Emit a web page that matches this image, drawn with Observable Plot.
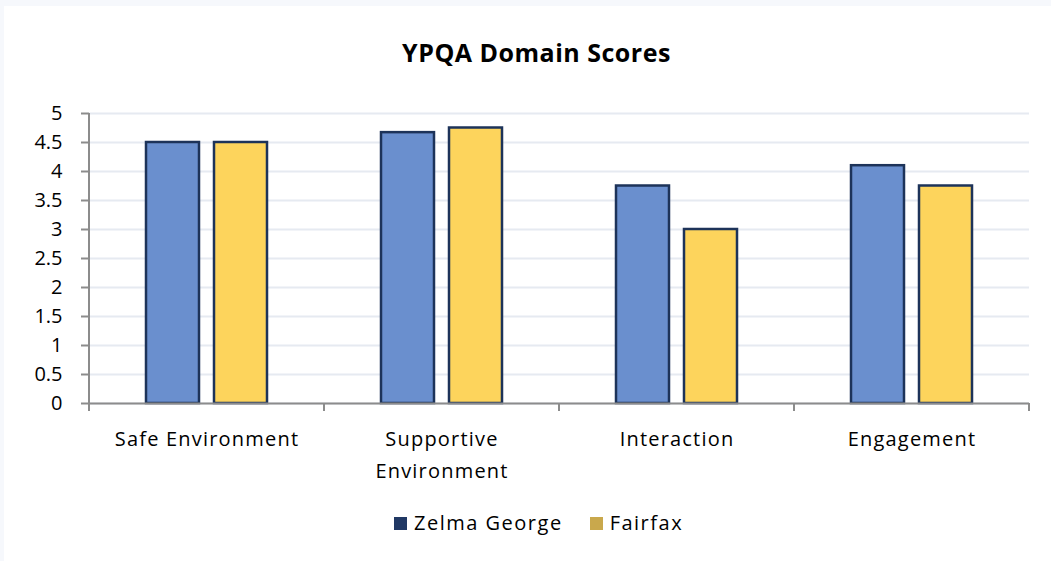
<!DOCTYPE html>
<html><head><meta charset="utf-8">
<script src="https://cdn.jsdelivr.net/npm/d3@7"></script>
<script src="https://cdn.jsdelivr.net/npm/@observablehq/plot@0.6"></script>
<style>
html,body{margin:0;padding:0;background:#f6f8fc;width:1051px;height:561px;overflow:hidden;}
#card{position:absolute;left:4px;top:6px;width:1047px;height:555px;background:#fff;font-family:"Open Sans",sans-serif;color:#000;}
#title{position:absolute;left:0;top:31px;width:1065px;text-align:center;font-weight:bold;font-size:25px;letter-spacing:0.5px;line-height:30px;}
#chart{position:absolute;left:0;top:84px;}
#legend{position:absolute;left:390px;top:504px;display:flex;align-items:center;font-size:20px;letter-spacing:1.5px;line-height:26px;}
.sw{display:inline-block;width:13px;height:13px;margin-right:7px;}
.item{display:flex;align-items:center;margin-right:27px;}
</style></head>
<body>
<div id="card">
  <div id="title">YPQA Domain Scores</div>
  <div id="chart"></div>
  <div id="legend"></div>
</div>
<script>
const categories = ["Safe Environment", "Supportive Environment", "Interaction", "Engagement"];
const series = ["Zelma George", "Fairfax"];
const zelmaGeorge = [4.5, 4.67, 3.75, 4.1];
const fairfax = [4.5, 4.75, 3.0, 3.75];
const yTicks = [0, 0.5, 1, 1.5, 2, 2.5, 3, 3.5, 4, 4.5, 5];
const barFills = ["#6a8fce", "#fdd45c"];
const legendColors = ["#203864", "#c9a84c"];

const data = [];
categories.forEach((c, i) => {
  data.push({category: c, series: series[0], value: zelmaGeorge[i]});
  data.push({category: c, series: series[1], value: fairfax[i]});
});

const axisColor = "#8c8c8c";

const chart = Plot.plot({
  width: 1047,
  height: 403,
  marginLeft: 85,
  marginRight: 22,
  marginTop: 23,
  marginBottom: 90,
  style: {fontFamily: "'Open Sans', sans-serif", fontSize: "20px", color: "#000", background: "transparent"},
  fx: {domain: categories, padding: 0, axis: null, label: null},
  x: {domain: series, paddingInner: 0.22, paddingOuter: 0.83, axis: null, label: null},
  y: {domain: [0, 5], axis: null, label: null},
  color: {domain: series, range: barFills},
  marks: [
    Plot.gridY(yTicks, {stroke: "#e6eaf1", strokeOpacity: 1, strokeWidth: 2}),
    Plot.barY(data, {fx: "category", x: "series", y: "value", fill: "series", stroke: "#1d3359", strokeWidth: 2.5}),
    Plot.ruleY([0], {stroke: axisColor, strokeWidth: 2}),
    Plot.axisY(yTicks, {tickSize: 8, tickPadding: 19, stroke: axisColor, strokeWidth: 2, strokeOpacity: 1, fontSize: 20, label: null, tickFormat: d => String(d)}),
    Plot.axisFx({anchor: "bottom", tickSize: 0, tickPadding: 20, lineWidth: 10, lineHeight: 1.58, fontSize: 20, label: null})
  ]
});
document.getElementById("chart").appendChild(chart);

// widen category label spacing like the reference
d3.select(chart).selectAll('g[aria-label="fx-axis tick label"] text').attr("letter-spacing", "1.2px");

// axis line and category boundary ticks, placed with the plot's own scales
const ys = chart.scale("y");
const fxs = chart.scale("fx");
const y0 = ys.apply(0), y5 = ys.apply(5);
const g = d3.select(chart).append("g").attr("stroke", axisColor).attr("stroke-width", 2).attr("fill", "none");
const left = fxs.apply(categories[0]);
g.append("line").attr("x1", left).attr("x2", left).attr("y1", y5).attr("y2", y0 + 8);
const bounds = categories.map(c => fxs.apply(c)).concat([fxs.apply(categories[categories.length - 1]) + fxs.bandwidth]);
bounds.slice(1).forEach(x => {
  g.append("line").attr("x1", x).attr("x2", x).attr("y1", y0).attr("y2", y0 + 8);
});

const legend = document.getElementById("legend");
series.forEach((s, i) => {
  const item = document.createElement("span");
  item.className = "item";
  const sw = document.createElement("span");
  sw.className = "sw";
  sw.style.background = legendColors[i];
  item.appendChild(sw);
  item.appendChild(document.createTextNode(s));
  legend.appendChild(item);
});
</script>
</body></html>
